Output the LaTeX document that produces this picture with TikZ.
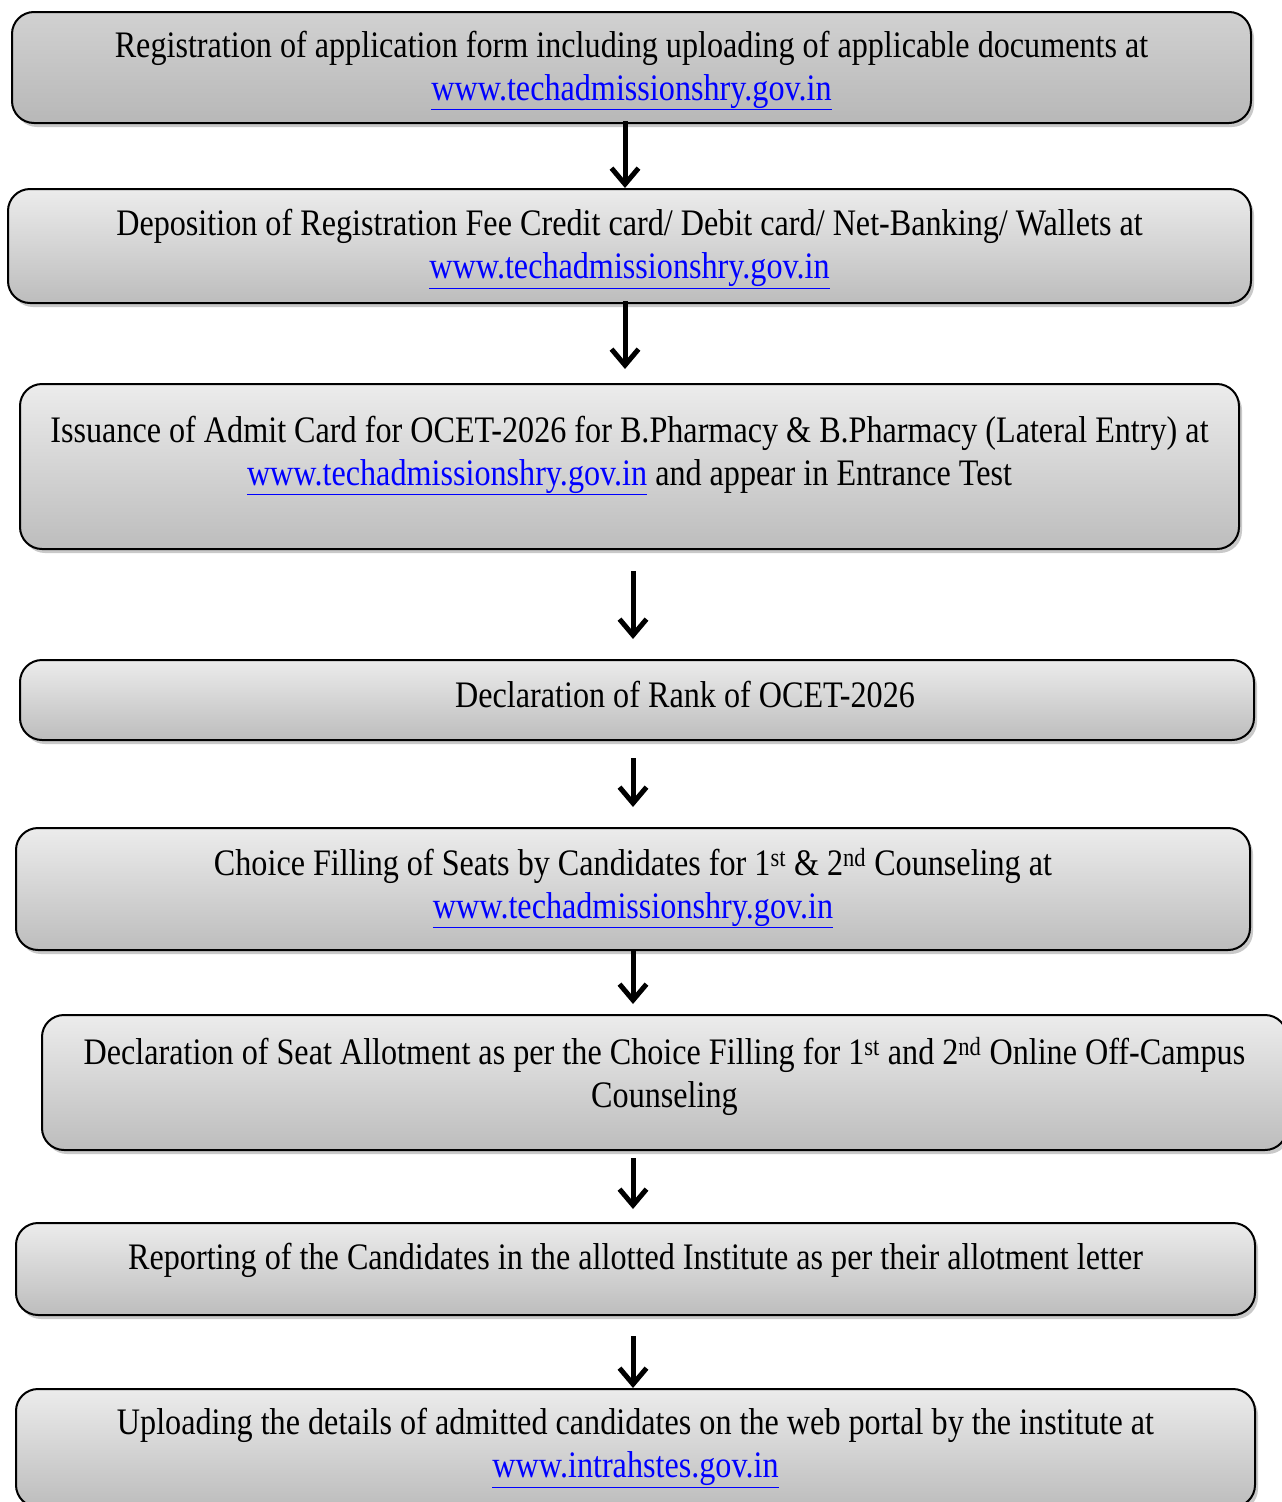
\documentclass[tikz,border=0pt]{standalone}
\usepackage{fontspec}
\setmainfont[FakeStretch=0.86]{Liberation Serif}
\usetikzlibrary{arrows.meta,shadows}
\definecolor{linkblue}{RGB}{0,0,255}
\newcommand{\weblink}[1]{\textcolor{linkblue}{\underline{#1}}}
\tikzset{
  box/.style={rounded corners=22pt, draw=black, line width=2pt, inner sep=0pt,
    top color=gray!15, bottom color=gray!52,
    drop shadow={shadow xshift=3pt, shadow yshift=-4pt, opacity=0.3, fill=black!70}},
  darkbox/.style={box, top color=gray!36, bottom color=gray!56},
  boxtxt/.style={align=center, inner sep=0pt, font=\fontsize{37.4}{43}\selectfont},
  flow/.style={line width=5pt, -{Straight Barb[length=16pt, width=27pt, line width=5pt]}},
}
\begin{document}
\begin{tikzpicture}[x=1pt, y=-1pt]
    \useasboundingbox (0,0) rectangle (1282,1502);
    % Boxes
    \node (b1) [darkbox, minimum width=1239, minimum height=111] at (631.5,67.5) {};
    \node (b2) [box, minimum width=1243, minimum height=114] at (629.5,246) {};
    \node (b3) [box, minimum width=1219, minimum height=165] at (629.5,466.5) {};
    \node (b4) [box, minimum width=1234, minimum height=80] at (637,700) {};
    \node (b5) [box, minimum width=1234, minimum height=122] at (633,889) {};
    \node (b6) [box, minimum width=1245, minimum height=135] at (664.5,1082.5) {};
    \node (b7) [box, minimum width=1239, minimum height=92] at (635.5,1269) {};
    \node (b8) [box, minimum width=1239, minimum height=118] at (635.5,1448) {};

    % Texts
    \node (t1) [boxtxt, yshift=-3] at (b1.center) {Registration of application form including uploading of applicable documents at\\ \weblink{www.techadmissionshry.gov.in}};
    \node (t2) [boxtxt, yshift=-3] at (b2.center) {Deposition of Registration Fee Credit card/ Debit card/ Net-Banking/ Wallets at\\ \weblink{www.techadmissionshry.gov.in}};
    \node (t3) [boxtxt, yshift=11] at (b3.center) {Issuance of Admit Card for OCET-2026 for B.Pharmacy \& B.Pharmacy (Lateral Entry) at\\ \weblink{www.techadmissionshry.gov.in} and appear in Entrance Test};
    \node (t4) [boxtxt, xshift=48, yshift=5] at (b4.center) {Declaration of Rank of OCET-2026};
    \node (t5) [boxtxt, yshift=1] at (b5.center) {Choice Filling of Seats by Candidates for 1\textsuperscript{st} \& 2\textsuperscript{nd} Counseling at\\ \weblink{www.techadmissionshry.gov.in}};
    \node (t6) [boxtxt, yshift=6] at (b6.center) {Declaration of Seat Allotment as per the Choice Filling for 1\textsuperscript{st} and 2\textsuperscript{nd} Online Off-Campus\\ Counseling};
    \node (t7) [boxtxt, yshift=9] at (b7.center) {Reporting of the Candidates in the allotted Institute as per their allotment letter};
    \node (t8) [boxtxt, yshift=0] at (b8.center) {Uploading the details of admitted candidates on the web portal by the institute at\\ \weblink{www.intrahstes.gov.in}};

    % Arrows
    \coordinate (ax1) at (625,0);
    \coordinate (ax2) at (633,0);
    \draw[flow, shorten <=-3pt] (b1.south -| ax1) -- (b2.north -| ax1);
    \draw[flow, shorten <=-3pt, shorten >=14pt] (b2.south -| ax1) -- (b3.north -| ax1);
    \draw[flow, shorten <=21pt, shorten >=20pt] (b3.south -| ax2) -- (b4.north -| ax2);
    \draw[flow, shorten <=17pt, shorten >=20pt] (b4.south -| ax2) -- (b5.north -| ax2);
    \draw[flow, shorten >=10pt] (b5.south -| ax2) -- (b6.north -| ax2);
    \draw[flow, shorten <=7pt, shorten >=13pt] (b6.south -| ax2) -- (b7.north -| ax2);
    \draw[flow, shorten <=20pt] (b7.south -| ax2) -- (b8.north -| ax2);
\end{tikzpicture}
\end{document}
